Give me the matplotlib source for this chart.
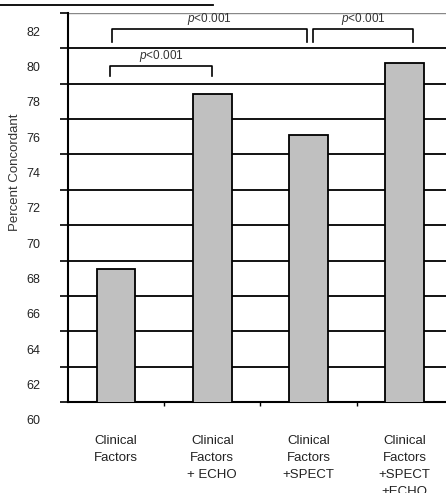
import numpy as np
import matplotlib
matplotlib.use("Agg")
import matplotlib.pyplot as plt
from matplotlib.transforms import ScaledTranslation

plt.rcParams['font.family'] = ['Liberation Sans', 'DejaVu Sans']
plt.rcParams['mathtext.fontset'] = 'custom'
plt.rcParams['mathtext.it'] = 'Liberation Sans:italic'
plt.rcParams['mathtext.rm'] = 'Liberation Sans'

# percent concordance per model
categories = ['Clinical\nFactors', 'Clinical\nFactors\n+ ECHO',
              'Clinical\nFactors\n+SPECT', 'Clinical\nFactors\n+SPECT\n+ECHO']
concordance = [67.5, 77.4, 75.1, 79.2]
y_ticks = list(range(60, 84, 2))

# significance brackets: (left x, right x, bar height, drop height, label)
brackets = [(-0.06, 1.0, 79.0, 78.45, '$p$<0.001'),
            (-0.04, 1.98, 81.1, 80.35, '$p$<0.001'),
            (2.05, 3.09, 81.1, 80.35, '$p$<0.001')]

fig = plt.figure(figsize=(4.46, 4.93), dpi=100)
ax = fig.add_axes([0.1525, 0.1846, 0.8475, 0.789])

x = np.arange(len(categories))
ax.bar(x, concordance, width=0.4, color='#c0c0c0', edgecolor='black',
       linewidth=1.3, zorder=3)

ax.set_xlim(-0.5, 3.43)
ax.set_ylim(60, 82)

# horizontal gridlines at every tick
for v in y_ticks[1:-1]:
    ax.axhline(v, color='black', linewidth=1.3, zorder=1)
ax.axhline(82, color='#888888', linewidth=1.0, zorder=1)

ax.set_yticks(y_ticks)
ax.set_yticklabels([str(v) for v in y_ticks], fontsize=9, color='#222222')
ax.tick_params(axis='y', direction='out', length=6, width=1.2, pad=14)
shift = ScaledTranslation(0, -0.18, fig.dpi_scale_trans)
for lab in ax.get_yticklabels():
    lab.set_transform(lab.get_transform() + shift)

ax.set_xticks(x)
ax.set_xticklabels(categories, fontsize=9.5, linespacing=1.55, color='#222222',
                   va='top')
ax.set_xticks([0.5, 1.5, 2.5], minor=True)
ax.tick_params(axis='x', which='major', length=0, pad=24)
ax.tick_params(axis='x', which='minor', direction='out', length=3, width=1.0)

for side in ['top', 'right']:
    ax.spines[side].set_visible(False)
ax.spines['left'].set_linewidth(1.5)
ax.spines['bottom'].set_linewidth(1.5)
ax.spines['left'].set_zorder(4)

for x0, x1, yh, yd, txt in brackets:
    ax.plot([x0, x0, x1, x1], [yd, yh, yh, yd], color='black', linewidth=1.2,
            clip_on=False, zorder=4)
    ax.text((x0 + x1) / 2, yh + 0.12, txt, ha='center', va='bottom',
            fontsize=8.5, color='#333333')

fig.text(0.034, 0.65, 'Percent Concordant', rotation=90, ha='center',
         va='center', fontsize=9.5, color='#333333')

# rule above the panel
fig.add_artist(plt.Line2D([0, 0.478], [0.99, 0.99], color='black',
                          linewidth=1.3, transform=fig.transFigure))

fig.savefig('out.png', dpi=100)
